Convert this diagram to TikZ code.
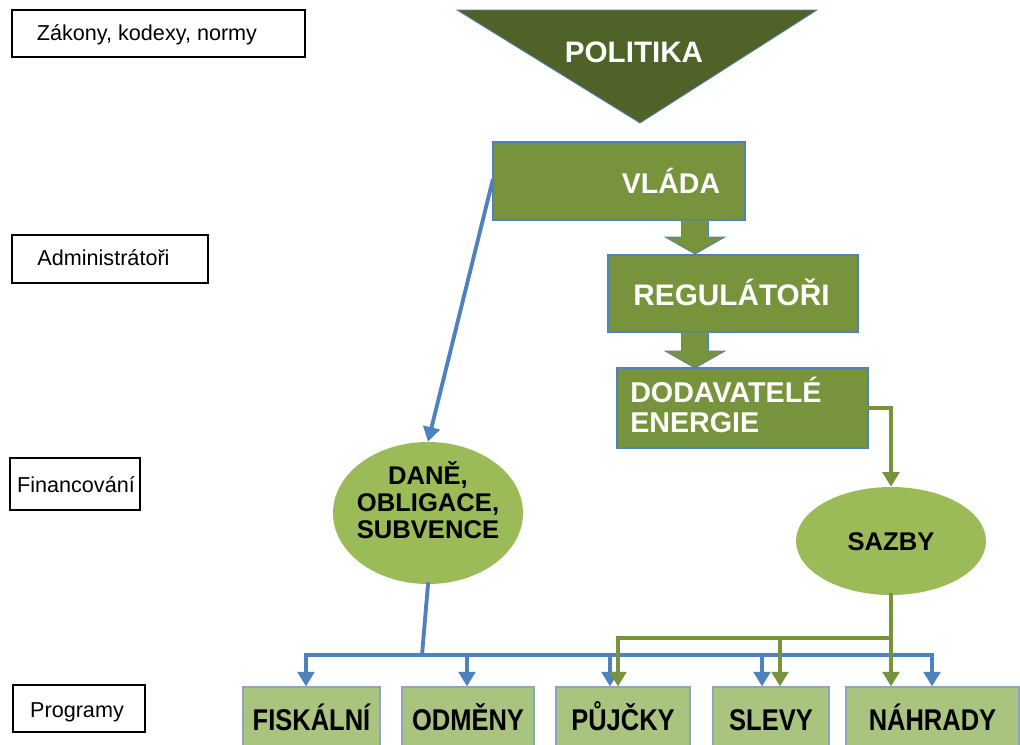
\documentclass[tikz,border=0pt]{standalone}
\usepackage{fontspec}
\setmainfont{Liberation Sans}
\newfontfamily\narrowfont{Liberation Sans}[FakeStretch=0.85]
\usetikzlibrary{arrows.meta,calc,shapes.geometric}
\definecolor{polit}{HTML}{4F6228}
\definecolor{gboxc}{HTML}{77933C}
\definecolor{gellc}{HTML}{9BBB59}
\definecolor{gprogc}{HTML}{A9C47F}
\definecolor{blinec}{HTML}{4F81BD}
\definecolor{glinec}{HTML}{77933C}
\definecolor{pborderc}{HTML}{8DA6BE}
\begin{document}
\begin{tikzpicture}[x=0.75pt,y=-0.75pt,
  lbox/.style={draw=black,line width=2.2pt,fill=white,inner sep=0pt},
  ltext/.style={font=\fontsize{16.2}{19}\selectfont,anchor=base,inner sep=0pt},
  gboxs/.style={draw=blinec,line width=0.8pt,fill=gboxc,inner sep=0pt},
  wtext/.style={text=white,font=\bfseries\fontsize{21.5}{22.5}\selectfont,inner sep=0pt},
  ells/.style={ellipse,draw=none,fill=gellc,inner sep=0pt},
  ktext/.style={font=\bfseries\fontsize{19.2}{20}\selectfont,inner sep=0pt},
  prog/.style={draw=pborderc,line width=0.9pt,fill=gprogc,minimum height=59*0.75pt,
    font=\narrowfont\bfseries\fontsize{22.5}{24}\selectfont,text height=20.25pt,text depth=0pt,inner sep=0pt},
  bstroke/.style={draw=blinec,line width=2.9pt,line cap=rect},
  gstroke/.style={draw=glinec,line width=2.9pt,line cap=rect},
  barrow/.style={bstroke,-{Triangle[width=12.5pt,length=11pt]}},
  garrow/.style={gstroke,-{Triangle[width=12.5pt,length=11pt]}},
  blk/.style={fill=gboxc,draw=blinec,line width=0.6pt}
]
\useasboundingbox (0,0) rectangle (1020,744);

% left labels
\node[lbox,minimum width=293*0.75pt,minimum height=47*0.75pt] (lawbox) at (158.5,33.5) {};
\node[ltext] (lawtxt) at (147,40) {Zákony, kodexy, normy};
\node[lbox,minimum width=196*0.75pt,minimum height=48*0.75pt] (admbox) at (110,259) {};
\node[ltext] (admtxt) at (103.5,265) {Administrátoři};
\node[lbox,minimum width=130*0.75pt,minimum height=52*0.75pt] (finbox) at (75,484) {};
\node[ltext] (fintxt) at (76,492) {Financování};
\node[lbox,minimum width=132*0.75pt,minimum height=47*0.75pt] (prgbox) at (79,708.5) {};
\node[ltext] (prgtxt) at (77,717) {Programy};

% politika triangle
\path[fill=polit,draw=blinec,line width=0.6pt] (457,10) -- (817,10) -- (640,123) -- cycle;
\node[wtext,font=\bfseries\fontsize{22.2}{24}\selectfont,anchor=base] (polit) at (634,62) {POLITIKA};

% green boxes
\node[gboxs,minimum width=252*0.75pt,minimum height=78*0.75pt] (vlada) at (619,181) {};
\node[wtext,font=\bfseries\fontsize{21.4}{24}\selectfont,anchor=base] (vladat) at (671,193) {VLÁDA};
\node[gboxs,minimum width=250*0.75pt,minimum height=77*0.75pt] (regul) at (733,293.5) {};
\node[wtext,font=\bfseries\fontsize{22.3}{24}\selectfont,anchor=base] (regult) at (731.5,305) {REGULÁTOŘI};
\node[gboxs,minimum width=251*0.75pt,minimum height=80*0.75pt] (dod) at (742.5,408) {};
\node[wtext,align=left,anchor=west] (dodt) at (630,405) {DODAVATELÉ\\ENERGIE};

% block arrows
\path[blk] (681.5,220) -- (708.5,220) -- (708.5,237) -- (725,237) -- (695,254) -- (665,237) -- (681.5,237) -- cycle;
\path[blk] (681.5,332) -- (708.5,332) -- (708.5,351) -- (725,351) -- (695,368) -- (665,351) -- (681.5,351) -- cycle;

% ellipses
\node[ells,minimum width=190*0.75pt,minimum height=142*0.75pt] (dane) at (428,513) {};
\node[ktext,align=center] (danet) at (428,500) {DANĚ,\\OBLIGACE,\\SUBVENCE};
\node[ells,minimum width=190*0.75pt,minimum height=108*0.75pt] (sazby) at (891,541) {};
\node[ktext,anchor=base] (sazbyt) at (891,550) {SAZBY};

% program boxes
\node[prog,minimum width=137*0.75pt] (fisk) at (311.5,716.5) {FISKÁLNÍ};
\node[prog,minimum width=132*0.75pt] (odm) at (468,716.5) {ODMĚNY};
\node[prog,minimum width=134*0.75pt] (pujc) at (623,716.5) {PŮJČKY};
\node[prog,minimum width=116*0.75pt] (slev) at (771,716.5) {SLEVY};
\node[prog,minimum width=173*0.75pt] (nahr) at (932.5,716.5) {NÁHRADY};

% blue connectors
\coordinate (bj) at (422,655);
\coordinate (b1) at (306,655);
\coordinate (b2) at (467,655);
\coordinate (b3) at (610,655);
\coordinate (b4) at (762,655);
\coordinate (b5) at (932,655);
\draw[barrow] (vlada.west) -- (dane.north);
\draw[bstroke] (dane.south) -- (bj);
\draw[bstroke] (b1) -- (b5);
\draw[barrow] (b1) -- (b1 |- fisk.north);
\draw[barrow] (b2) -- (b2 |- odm.north);
\draw[barrow] (b3) -- (b3 |- pujc.north);
\draw[barrow] (b4) -- (b4 |- slev.north);
\draw[barrow] (b5) -- (b5 |- nahr.north);

% green connectors
\coordinate (g1) at (618,638);
\coordinate (g2) at (780,638);
\coordinate (g3) at (891,638);
\draw[garrow] (dod.east) -| (sazby.north);
\draw[gstroke] (sazby.south) -- (g3) -- (g1);
\draw[garrow] (g1) -- (g1 |- pujc.north);
\draw[garrow] (g2) -- (g2 |- slev.north);
\draw[garrow] (g3) -- (g3 |- nahr.north);
\end{tikzpicture}
\end{document}
